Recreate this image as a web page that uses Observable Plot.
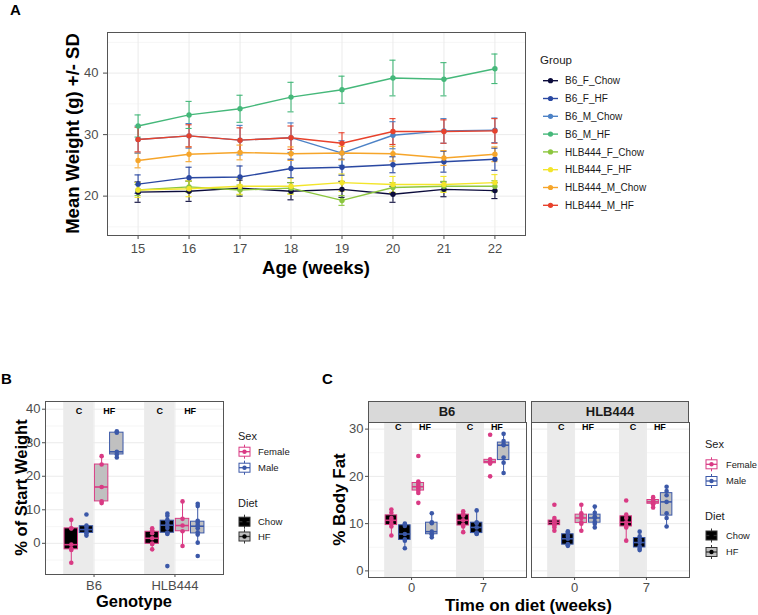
<!DOCTYPE html>
<html><head><meta charset="utf-8">
<script src="https://cdn.jsdelivr.net/npm/d3@7"></script>
<script src="https://cdn.jsdelivr.net/npm/@observablehq/plot@0.6"></script>
<style>
body{margin:0;background:#fff;font-family:"Liberation Sans",Arial,sans-serif;}
#root{position:relative;width:758px;height:615px;overflow:hidden;background:#fff;}
#root > svg{position:absolute;}
.strip{position:absolute;box-sizing:border-box;background:#d9d9d9;border:1px solid #555;font:bold 13px "Liberation Sans",Arial,sans-serif;color:#1a1a1a;text-align:center;}
</style></head><body><div id="root"></div>
<script>
// ---------- Panel A data ----------
const ages = [15,16,17,18,19,20,21,22];
const groups = ["B6_F_Chow","B6_F_HF","B6_M_Chow","B6_M_HF","HLB444_F_Chow","HLB444_F_HF","HLB444_M_Chow","HLB444_M_HF"];
const groupColors = ["#0c0c3c","#2a48a2","#4d82c6","#45b87a","#8cc63f","#f3e52b","#f6a52a","#e8422c"];
const meanB6FChow = [20.65,20.8,21.3,20.8,21.1,20.3,21.1,20.9];
const sdB6FChow   = [1.65,1.65,1.3,1.4,1.3,1.3,1.2,1.3];
const meanB6FHF   = [21.95,23.0,23.1,24.5,24.7,25.1,25.6,26.0];
const sdB6FHF     = [1.5,1.7,1.8,1.5,1.3,1.3,1.7,1.8];
const meanB6MChow = [29.2,29.8,29.1,29.5,27.0,29.9,30.6,30.7];
const sdB6MChow   = [2.2,2.0,2.4,2.4,2.0,2.2,2.0,2.0];
const meanB6MHF   = [31.4,33.2,34.2,36.1,37.3,39.2,39.0,40.7];
const sdB6MHF     = [1.8,2.2,2.2,2.4,2.2,2.9,2.7,2.4];
const meanHLBFChow = [21.0,21.5,21.0,21.3,19.3,21.4,21.6,21.6];
const sdHLBFChow   = [0.9,0.9,0.8,0.9,0.8,0.8,0.8,0.9];
const meanHLBFHF   = [21.0,21.2,21.6,21.6,22.2,21.9,21.9,22.2];
const sdHLBFHF     = [1.2,1.3,1.3,1.3,1.4,1.3,1.3,1.3];
const meanHLBMChow = [25.8,26.8,27.1,26.9,27.0,26.9,26.2,26.8];
const sdHLBMChow   = [1.2,1.2,1.2,1.1,1.1,1.2,1.2,1.2];
const meanHLBMHF   = [29.2,29.8,29.1,29.5,28.6,30.5,30.5,30.6];
const sdHLBMHF     = [2.0,1.8,2.0,1.9,1.7,2.1,1.9,2.0];

// ---------- Panel B data (% of start weight) ----------
const genotypes = ["B6","HLB444"];
const sexes = ["Female","Male"];
const diets = ["Chow","HF"];
const sexColors = ["#d93a84","#3b58a8"];
const dietFills = ["#000000","#c0c0c0"];
const gainB6FChow  = [-5.8,-2.0,-1.6,-0.4,4.4,4.5,7.0];
const gainB6MChow  = [2.3,2.9,3.3,4.1,4.9,5.3,8.6];
const gainB6FHF    = [12.0,12.5,16.8,23.5,26.0];
const gainB6MHF    = [25.6,26.5,27.3,33.0,33.4];
const gainHLBFChow = [-1.8,-0.2,-0.1,1.5,3.0,3.9,4.5];
const gainHLBMChow = [-6.8,2.8,3.1,3.2,4.6,5.4,5.6,6.5,7.0,8.2,8.9];
const gainHLBFHF   = [-0.8,3.6,5.3,7.3,12.5];
const gainHLBMHF   = [-3.8,0.2,2.6,3.3,4.5,5.1,5.5,6.2,6.7,11.1,11.8];

// ---------- Panel C data (% body fat) ----------
const timepoints = ["0","7"];
const fatB6FChow0 = [7.5,9.4,10.0,10.7,11.2,12.3,13.0];
const fatB6MChow0 = [4.8,6.4,6.7,7.8,9.5,9.8,10.0];
const fatB6FHF0   = [14.4,16.5,17.0,17.5,17.8,18.2,18.6,18.9,24.3];
const fatB6MHF0   = [7.1,7.7,7.8,8.3,10.1,10.3,12.2];
const fatB6FChow7 = [8.2,9.4,9.8,10.7,11.7,12.1,12.6];
const fatB6MChow7 = [7.8,7.9,8.1,9.2,10.1,10.3,12.8];
const fatB6FHF7   = [20.0,22.7,23.0,23.2,23.6,28.8];
const fatB6MHF7   = [20.7,22.9,24.0,26.6,26.8,27.5,29.0];
const fatHLBFChow0 = [8.5,9.2,9.6,9.9,10.2,10.3,10.5,10.7,11.2,14.0];
const fatHLBMChow0 = [5.3,5.4,5.7,6.8,7.4,8.1,8.4];
const fatHLBFHF0   = [8.5,10.0,10.3,11.2,11.6,12.2,14.0];
const fatHLBMHF0   = [9.2,10.0,10.4,11.2,11.5,12.3,13.6];
const fatHLBFChow7 = [6.4,9.2,9.6,10.3,11.2,11.9,14.9];
const fatHLBMChow7 = [4.4,4.7,5.2,6.0,6.6,7.3,8.3];
const fatHLBFHF7   = [13.4,14.1,14.3,14.6,14.9,15.1,15.6];
const fatHLBMHF7   = [9.4,11.2,12.2,14.6,16.0,16.9,17.8];

// ---------- build tables ----------
const meansByGroup = [meanB6FChow,meanB6FHF,meanB6MChow,meanB6MHF,meanHLBFChow,meanHLBFHF,meanHLBMChow,meanHLBMHF];
const sdsByGroup = [sdB6FChow,sdB6FHF,sdB6MChow,sdB6MHF,sdHLBFChow,sdHLBFHF,sdHLBMChow,sdHLBMHF];
const weightRows = groups.flatMap((g,gi)=>ages.map((a,ai)=>({group:g,age:a,mean:meansByGroup[gi][ai],sd:sdsByGroup[gi][ai]})));

const gainTable = [
  [0,0,0,gainB6FChow],[0,1,0,gainB6MChow],[0,0,1,gainB6FHF],[0,1,1,gainB6MHF],
  [1,0,0,gainHLBFChow],[1,1,0,gainHLBMChow],[1,0,1,gainHLBFHF],[1,1,1,gainHLBMHF]
]; // [genotype, sex, diet, values]
const fatTable = [
  [0,0,0,0,fatB6FChow0],[0,0,1,0,fatB6MChow0],[0,0,0,1,fatB6FHF0],[0,0,1,1,fatB6MHF0],
  [0,1,0,0,fatB6FChow7],[0,1,1,0,fatB6MChow7],[0,1,0,1,fatB6FHF7],[0,1,1,1,fatB6MHF7],
  [1,0,0,0,fatHLBFChow0],[1,0,1,0,fatHLBMChow0],[1,0,0,1,fatHLBFHF0],[1,0,1,1,fatHLBMHF0],
  [1,1,0,0,fatHLBFChow7],[1,1,1,0,fatHLBMChow7],[1,1,0,1,fatHLBFHF7],[1,1,1,1,fatHLBMHF7]
]; // [genotype, time, sex, diet, values]

function stats(v){
  const s=[...v].sort(d3.ascending);
  const q1=d3.quantile(s,.25), med=d3.quantile(s,.5), q3=d3.quantile(s,.75), iqr=q3-q1;
  return {q1,med,q3,lo:d3.min(s.filter(x=>x>=q1-1.5*iqr)),hi:d3.max(s.filter(x=>x<=q3+1.5*iqr))};
}
const dodge = (sex,diet)=> -0.375 + 0.1875*(diet*2+sex+0.5);
function makeBox(center, sex, diet, values){
  const pos = center + dodge(sex,diet);
  return {pos, col:sexColors[sex], boxFill:dietFills[diet], ...stats(values), pts: values.map(v=>({pos, v, col:sexColors[sex]}))};
}
function boxMarks(boxes, hw){
  const pts = boxes.flatMap(b=>b.pts);
  return [
    Plot.ruleX(boxes,{x:"pos",y1:"lo",y2:"hi",stroke:"col",strokeWidth:1}),
    Plot.rect(boxes,{x1:d=>d.pos-hw,x2:d=>d.pos+hw,y1:"q1",y2:"q3",fill:"boxFill",stroke:"col",strokeWidth:1}),
    Plot.ruleY(boxes,{y:"med",x1:d=>d.pos-hw,x2:d=>d.pos+hw,stroke:"col",strokeWidth:1.6}),
    Plot.dot(pts,{x:"pos",y:"v",fill:"col",r:2.3})
  ];
}
function bandMarks(centers, yLab){
  const bands = centers.map(c=>({x1:c-0.375,x2:c}));
  const labs = centers.flatMap(c=>[{x:c-0.1875,t:"C"},{x:c+0.1875,t:"HF"}]);
  return [
    Plot.rect(bands,{x1:"x1",x2:"x2",fill:"#ebebeb"}),
    Plot.text(labs,{x:"x",y:()=>yLab,text:"t",fontWeight:"bold",fontSize:9,fill:"#000"})
  ];
}
const root = document.getElementById("root");
const font = '"Liberation Sans",Arial,sans-serif';
function place(svg,left,top){svg.style.left=left+"px";svg.style.top=top+"px";root.appendChild(svg);}

// ---------- Panel A ----------
const svgA = Plot.plot({
  width:528,height:265,marginLeft:107,marginTop:32,marginRight:3,marginBottom:30,
  style:{fontSize:"13px",color:"#4d4d4d",fontFamily:font,background:"transparent",overflow:"visible"},
  x:{domain:[14.4,22.6],ticks:ages,tickFormat:d=>String(d),tickSize:4,tickPadding:4,label:null},
  y:{domain:[13.6,46.6],ticks:[20,30,40],tickSize:4,tickPadding:5,label:null},
  color:{domain:groups,range:groupColors},
  marks:[
    Plot.ruleY([15,25,35,45],{stroke:"#f2f2f2",strokeWidth:0.7}),
    Plot.ruleY([20,30,40],{stroke:"#ebebeb",strokeWidth:1}),
    Plot.ruleX(ages,{stroke:"#ebebeb",strokeWidth:1}),
    Plot.ruleX(weightRows,{x:"age",y1:d=>d.mean-d.sd,y2:d=>d.mean+d.sd,stroke:"group",strokeWidth:1.1}),
    Plot.ruleY(weightRows,{y:d=>d.mean+d.sd,x1:d=>d.age-0.06,x2:d=>d.age+0.06,stroke:"group",strokeWidth:1.1}),
    Plot.ruleY(weightRows,{y:d=>d.mean-d.sd,x1:d=>d.age-0.06,x2:d=>d.age+0.06,stroke:"group",strokeWidth:1.1}),
    Plot.line(weightRows,{x:"age",y:"mean",z:"group",stroke:"group",strokeWidth:1.4}),
    Plot.dot(weightRows,{x:"age",y:"mean",fill:"group",r:2.7}),
    Plot.frame({stroke:"#555"})
  ]
});
place(svgA,0,0);

// ---------- Panel B ----------
const boxesB = gainTable.map(([g,s,d,v])=>makeBox(g+1,s,d,v));
const svgB = Plot.plot({
  width:226,height:209,marginLeft:45,marginTop:6,marginRight:3,marginBottom:30,
  style:{fontSize:"13px",color:"#4d4d4d",fontFamily:font,background:"transparent",overflow:"visible"},
  x:{domain:[0.4,2.6],ticks:[1,2],tickFormat:i=>genotypes[i-1],tickSize:3,tickPadding:3,label:null},
  y:{domain:[-9.3,42.3],ticks:[0,10,20,30,40],tickSize:3,tickPadding:2,label:null},
  color:{type:"identity"},
  marks:[
    Plot.ruleY([-5,5,15,25,35],{stroke:"#f2f2f2",strokeWidth:0.7}),
    Plot.ruleY([0,10,20,30,40],{stroke:"#ebebeb"}),
    Plot.ruleX([1,2],{stroke:"#ebebeb"}),
    ...bandMarks([1,2],39.4),
    ...boxMarks(boxesB,0.083),
    Plot.frame({stroke:"#555"})
  ]
});
place(svgB,0,395);

// ---------- Panel C ----------
genotypes.forEach((gname,gi)=>{
  const first = gi===0;
  const boxes = fatTable.filter(r=>r[0]===gi).map(([g,t,s,d,v])=>makeBox(t+1,s,d,v));
  const svg = Plot.plot({
    width:first?197:160,height:192,marginLeft:first?38:1,marginTop:7,marginRight:1,marginBottom:30,
    style:{fontSize:"13px",color:"#4d4d4d",fontFamily:font,background:"transparent",overflow:"visible"},
    x:{domain:[0.4,2.6],ticks:[1,2],tickFormat:i=>timepoints[i-1],tickSize:3,tickPadding:2,label:null},
    y:{domain:[-1.4,31.4],ticks:[0,10,20,30],tickSize:3,tickPadding:2,label:null,axis:first?"left":null},
    color:{type:"identity"},
    marks:[
      Plot.ruleY([5,15,25],{stroke:"#f2f2f2",strokeWidth:0.7}),
      Plot.ruleY([0,10,20,30],{stroke:"#ebebeb"}),
      Plot.ruleX([1,2],{stroke:"#ebebeb"}),
      ...bandMarks([1,2],30.5),
      ...boxMarks(boxes,0.08),
      Plot.frame({stroke:"#555"})
    ]
  });
  place(svg, first?330:530, 415);
  const strip = document.createElement("div");
  strip.className="strip";
  const left = first?368:531;
  strip.style.cssText=`left:${left}px;top:401px;width:158px;height:22px;line-height:20px;`;
  strip.textContent=gname;
  root.appendChild(strip);
});

// ---------- Overlay texts & legends ----------
const ov = d3.select(root).append("svg").attr("width",758).attr("height",615)
  .style("left","0px").style("top","0px").style("position","absolute").style("pointer-events","none")
  .style("font-family",font);
function txt(x,y,s,o={}){
  const t=ov.append("text").attr("x",x).attr("y",y).text(s)
    .attr("font-size",o.size||12).attr("font-weight",o.weight||"normal")
    .attr("text-anchor",o.anchor||"start").attr("fill",o.fill||"#000");
  if(o.rotate) t.attr("transform",`rotate(-90,${x},${y})`);
  return t;
}
txt(10,15,"A",{size:15,weight:"bold"});
txt(79,133.5,"Mean Weight (g) +/- SD",{size:18.5,weight:"bold",anchor:"middle",rotate:true});
txt(316,274,"Age (weeks)",{size:18.5,weight:"bold",anchor:"middle"});
txt(540,64,"Group",{size:11.5,fill:"#1a1a1a"});
groups.forEach((g,i)=>{
  const cy=80.7+17.8*i;
  ov.append("line").attr("x1",543).attr("x2",558).attr("y1",cy).attr("y2",cy).attr("stroke",groupColors[i]).attr("stroke-width",1.4);
  ov.append("circle").attr("cx",550.5).attr("cy",cy).attr("r",2.6).attr("fill",groupColors[i]);
  txt(565,cy+3.6,g,{size:10,fill:"#1a1a1a"});
});

txt(1,384,"B",{size:15,weight:"bold"});
txt(27,487.5,"% of Start Weight",{size:16.5,weight:"bold",anchor:"middle",rotate:true});
txt(134,607,"Genotype",{size:16.5,weight:"bold",anchor:"middle"});
txt(322,384,"C",{size:15,weight:"bold"});
txt(345,499.5,"% Body Fat",{size:17,weight:"bold",anchor:"middle",rotate:true});
txt(528.5,611,"Time on diet (weeks)",{size:17,weight:"bold",anchor:"middle"});

function legendKey(x,cy,stroke,fill,dot){
  ov.append("line").attr("x1",x+6.5).attr("x2",x+6.5).attr("y1",cy-7).attr("y2",cy+7).attr("stroke",stroke);
  ov.append("rect").attr("x",x+1).attr("y",cy-4.5).attr("width",11).attr("height",9).attr("fill",fill).attr("stroke",stroke);
  ov.append("line").attr("x1",x+1).attr("x2",x+12).attr("y1",cy).attr("y2",cy).attr("stroke",stroke).attr("stroke-width",1.3);
  ov.append("circle").attr("cx",x+6.5).attr("cy",cy).attr("r",2.2).attr("fill",dot);
}
function sexDietLegend(x, sexY, sexRows, dietY, dietRows, textX, tsize, lsize){
  txt(x,sexY,"Sex",{size:tsize,fill:"#1a1a1a"});
  sexes.forEach((s,i)=>{legendKey(x,sexRows[i],sexColors[i],"#fff",sexColors[i]);txt(textX,sexRows[i]+3.3,s,{size:lsize,fill:"#1a1a1a"});});
  txt(x,dietY,"Diet",{size:tsize,fill:"#1a1a1a"});
  diets.forEach((d,i)=>{legendKey(x,dietRows[i],"#333",dietFills[i],"#000");txt(textX,dietRows[i]+3.3,d,{size:lsize,fill:"#1a1a1a"});});
}
sexDietLegend(238,440,[451.7,467.7],506.7,[521.7,536.5],258,11,9.5);
sexDietLegend(705,448,[464.3,481],520,[535.5,552],726,11,9.3);
</script></body></html>
